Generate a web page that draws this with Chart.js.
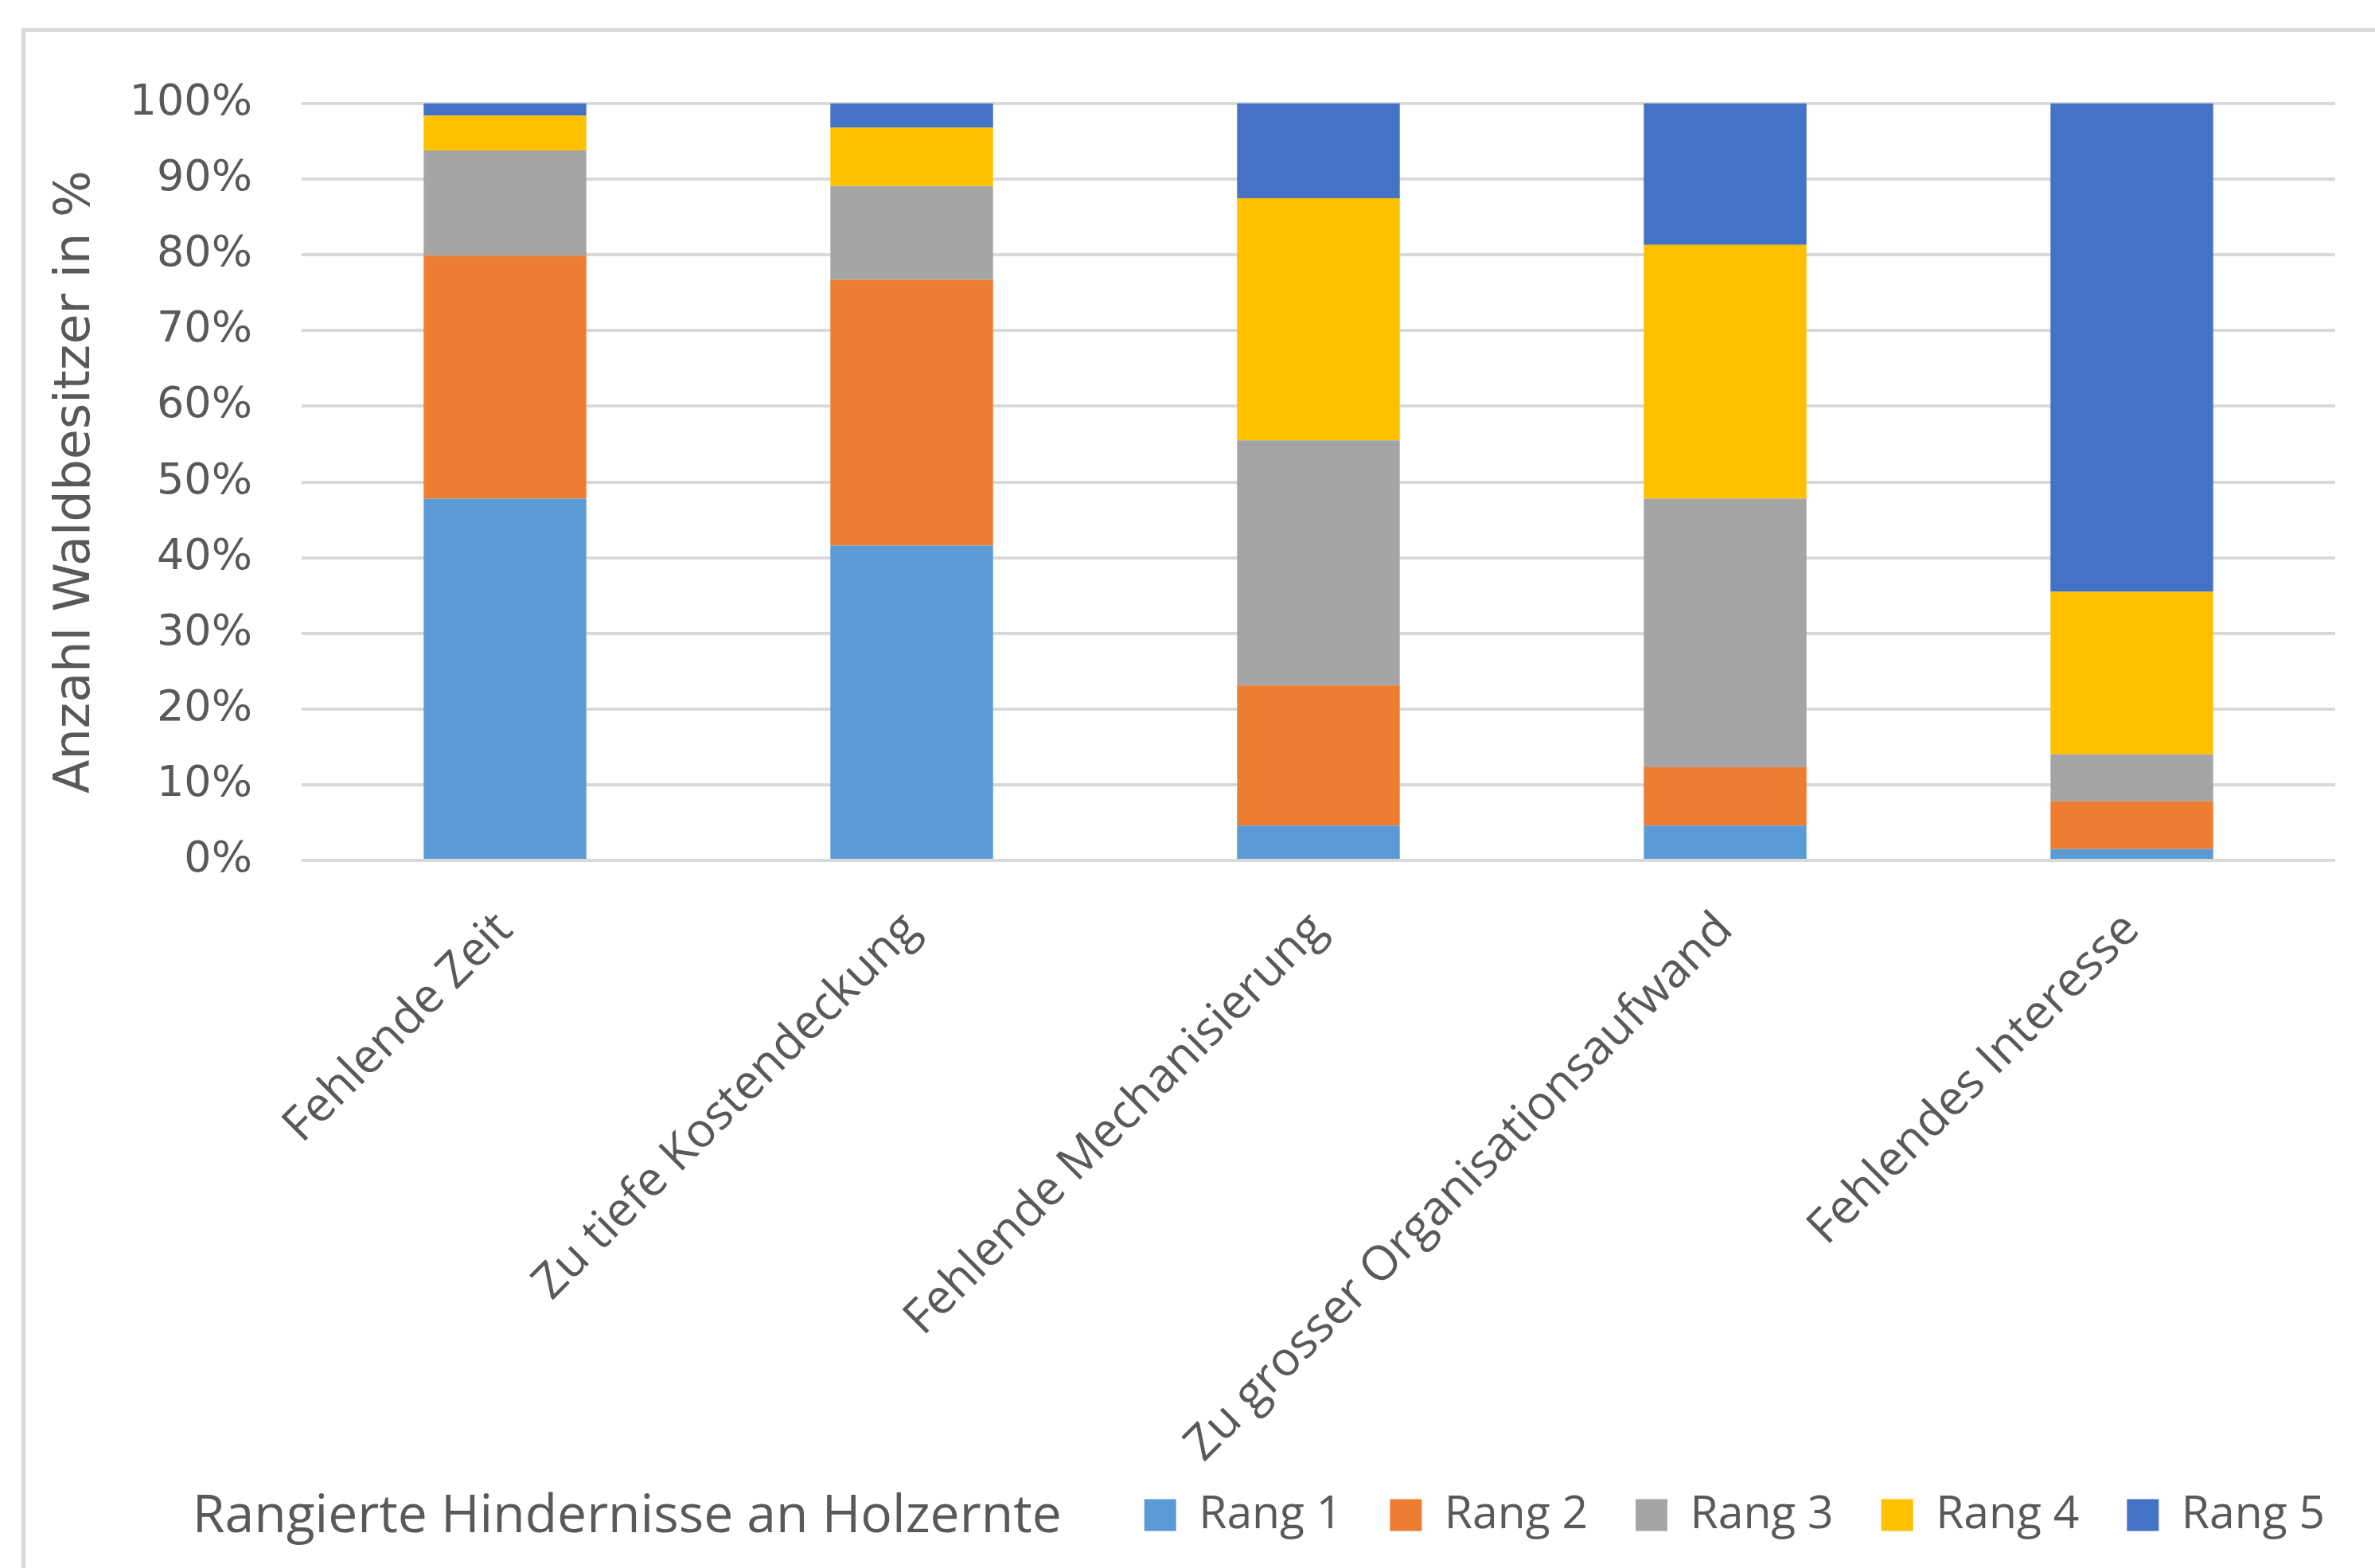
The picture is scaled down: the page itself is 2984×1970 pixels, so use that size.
<!doctype html>
<html lang="de">
<head>
    <meta charset="UTF-8">
    <title>Rangierte Hindernisse an Holzernte</title>
    <style>
        body { margin: 0; background: #fff; }
        #wrap { position: relative; width: 2984px; height: 1970px; overflow: hidden; }
        #frame { position: absolute; left: 27px; top: 35px; width: 3100px; height: 2100px;
                 border-left: 5px solid #d9d9d9; border-top: 5px solid #d9d9d9; }
        #box { position: absolute; left: 0; top: 0; width: 2984px; height: 1970px; }
    </style>
</head>
<body>
<div id="wrap">
    <div id="frame"></div>
    <div id="box"><canvas id="myChart"></canvas></div>
</div>
<script src="https://cdn.jsdelivr.net/npm/chart.js"></script>
<script>
    // Kategorien (x-Achse)
    var categories = ['Fehlende Zeit', 'Zu tiefe Kostendeckung', 'Fehlende Mechanisierung',
                      'Zu grosser Organisationsaufwand', 'Fehlendes Interesse'];

    // Anteile in % je Rang
    var rang1 = [47.8, 41.6, 4.6, 4.6, 1.5];
    var rang2 = [32.1, 35.1, 18.5, 7.7, 6.3];
    var rang3 = [13.9, 12.4, 32.4, 35.5, 6.2];
    var rang4 = [4.6, 7.7, 32.0, 33.5, 21.5];
    var rang5 = [1.6, 3.2, 12.5, 18.7, 64.5];

    var seriesNames = ['Rang 1', 'Rang 2', 'Rang 3', 'Rang 4', 'Rang 5'];
    var colors = ['#5b9bd5', '#ed7d31', '#a5a5a5', '#ffc000', '#4472c4'];

    var yTitle = 'Anzahl Waldbesitzer in %';
    var xTitle = 'Rangierte Hindernisse an Holzernte';

    var textColor = '#595959';

    // x-Achsentitel steht in derselben Zeile wie die Legende, links davon
    var captionPlugin = {
        id: 'caption',
        afterDraw: function(chart) {
            var boxes = chart.legend.legendHitBoxes;
            if (!boxes || !boxes.length) return;
            var first = boxes[0];
            var ctx = chart.ctx;
            ctx.save();
            ctx.font = '66px "Open Sans"';
            ctx.fillStyle = textColor;
            ctx.textAlign = 'right';
            ctx.textBaseline = 'middle';
            ctx.fillText(xTitle, first.left - 104, first.top + first.height / 2 + 3);
            ctx.restore();
        }
    };

    var allData = [rang1, rang2, rang3, rang4, rang5];
    var datasets = allData.map(function(d, i) {
        return {
            label: seriesNames[i],
            data: d,
            backgroundColor: colors[i],
            borderWidth: 0,
            categoryPercentage: 0.4,
            barPercentage: 1.0
        };
    });

    var ctx = document.getElementById('myChart').getContext('2d');
    var chart = new Chart(ctx, {
        type: 'bar',
        data: {
            labels: categories,
            datasets: datasets
        },
        plugins: [captionPlugin],
        options: {
            responsive: true,
            maintainAspectRatio: false,
            animation: false,
            layout: {
                padding: { top: 130, left: 0, right: 3, bottom: 28 }
            },
            plugins: {
                tooltip: { enabled: false },
                legend: {
                    position: 'bottom',
                    align: 'end',
                    // leerer Titel mit negativem Abstand: Legende rueckt naeher an die Achse
                    title: {
                        display: true,
                        text: '',
                        font: { size: 10 },
                        padding: { top: 0, bottom: -52 }
                    },
                    labels: {
                        color: textColor,
                        font: { family: '"Open Sans"', size: 57 },
                        boxWidth: 40,
                        boxHeight: 40,
                        padding: 60
                    }
                }
            },
            scales: {
                x: {
                    stacked: true,
                    grid: { display: false },
                    border: { display: false },
                    ticks: {
                        color: textColor,
                        font: { family: '"Open Sans"', size: 60 },
                        minRotation: 45,
                        maxRotation: 45,
                        autoSkip: false,
                        padding: 44
                    },
                    afterFit: function(scale) { scale.height = 774; }
                },
                y: {
                    stacked: true,
                    min: 0,
                    max: 100,
                    grid: { color: '#d9d9d9', lineWidth: 4, drawTicks: false },
                    border: { display: false },
                    ticks: {
                        stepSize: 10,
                        padding: 62,
                        color: textColor,
                        font: { family: '"DejaVu Sans"', size: 54 },
                        callback: function(v) { return v + '%'; }
                    },
                    title: {
                        display: true,
                        text: yTitle,
                        color: textColor,
                        font: { family: '"DejaVu Sans"', size: 62 },
                        padding: { top: 59, bottom: 0 }
                    },
                    afterFit: function(scale) { scale.width = 379; }
                },
                y2: {
                    position: 'right',
                    display: true,
                    grid: { display: false },
                    border: { display: false },
                    ticks: { display: false },
                    afterFit: function(scale) { scale.width = 47; }
                }
            }
        }
    });
</script>
</body>
</html>
